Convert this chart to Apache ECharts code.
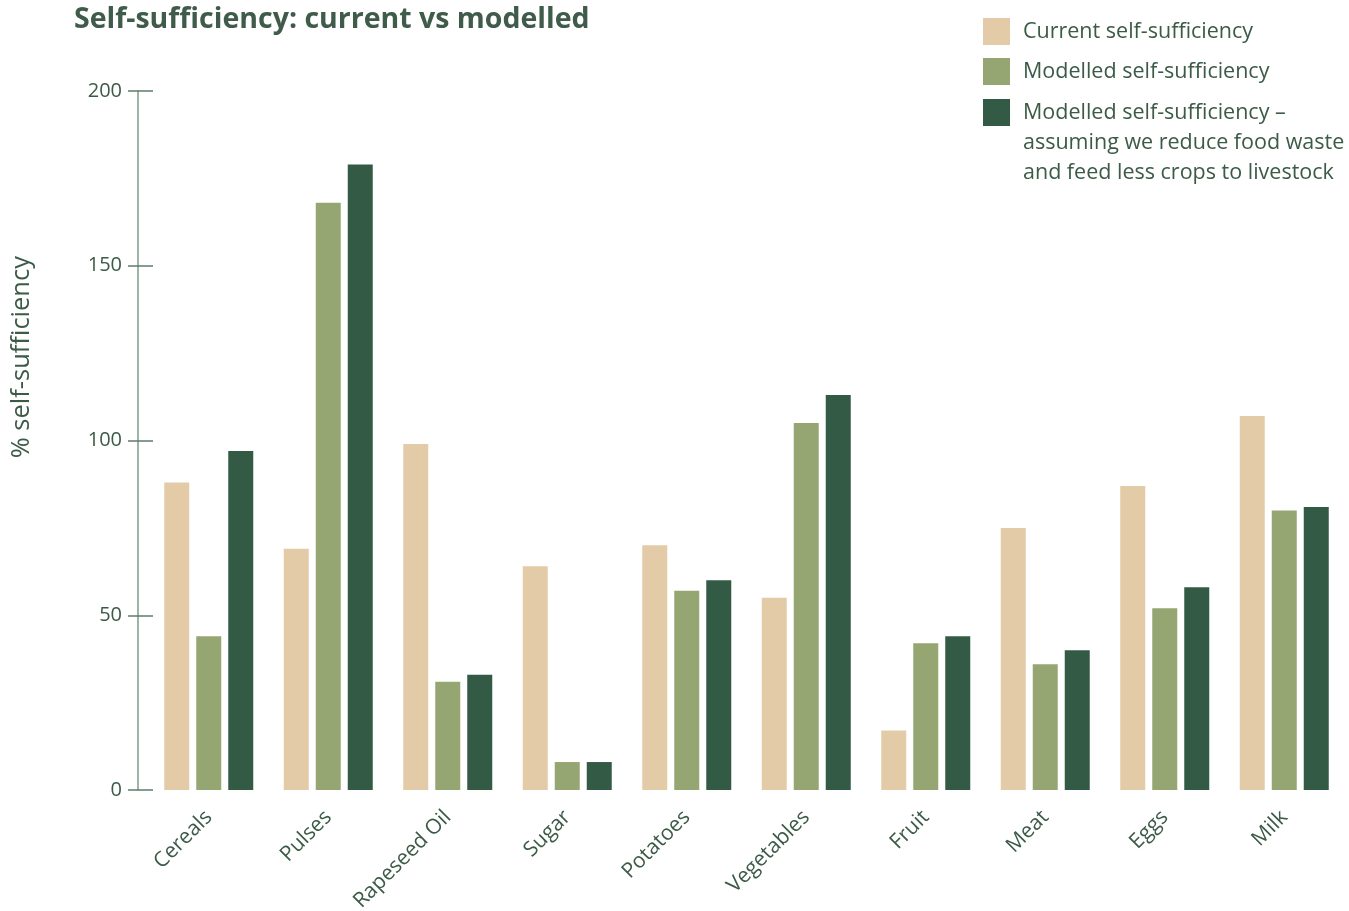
<!DOCTYPE html>
<html><head><meta charset="utf-8">
<script src="https://cdn.jsdelivr.net/npm/echarts@6/dist/echarts.min.js"></script>
<style>html,body{margin:0;padding:0;background:#fff}#c{width:1349px;height:911px}</style>
</head><body><div id="c"></div>
<script>
const categories = ['Cereals','Pulses','Rapeseed Oil','Sugar','Potatoes','Vegetables','Fruit','Meat','Eggs','Milk'];
const currentVals = [88, 69, 99, 64, 70, 55, 17, 75, 87, 107];
const modelledVals = [44, 168, 31, 8, 57, 105, 42, 36, 52, 80];
const reducedVals = [97, 179, 33, 8, 60, 113, 44, 40, 58, 81];
const seriesNames = ['Current self-sufficiency','Modelled self-sufficiency','Modelled self-sufficiency –\nassuming we reduce food waste\nand feed less crops to livestock'];
const yTicks = [0, 50, 100, 150, 200];
const colors = ['#E3CBA8','#96A672','#335A44'];
const textColor = '#3C5B47';
const font = '"Open Sans", Lato, sans-serif';

const legendText = {fontFamily: font, fontSize: 21.5, color: textColor, lineHeight: 30, padding: [0,0,0,8]};

const chart = echarts.init(document.getElementById('c'));
chart.setOption({
  animation: false,
  textStyle: {fontFamily: font},
  title: {text: 'Self-sufficiency: current vs modelled', left: 69, top: 0,
    textStyle: {fontFamily: font, fontWeight: 'bold', fontSize: 28.5, color: '#3F5B49'}},
  legend: [
    {
      left: 978, top: 11.5, orient: 'vertical', align: 'left',
      itemWidth: 27, itemHeight: 27, itemGap: 10, icon: 'rect',
      textStyle: legendText,
      data: [seriesNames[0], seriesNames[1]]
    },
    {
      left: 978, top: 32.5, orient: 'vertical', align: 'left',
      itemWidth: 27, itemHeight: 27, itemGap: 10, icon: 'rect',
      textStyle: legendText,
      formatter: function (name) { return '\n\n' + name; },
      data: [seriesNames[2]]
    }
  ],
  graphic: [{type: 'text', left: 9, top: 256, rotation: Math.PI/2,
    style: {text: '% self-sufficiency', fontFamily: font, fontSize: 25.5, fill: textColor}}],
  grid: {left: 149, right: 5, top: 91, bottom: 121, containLabel: false, outerBoundsMode: 'none'},
  xAxis: {
    type: 'category', data: categories,
    axisLine: {show: false}, axisTick: {show: false},
    axisLabel: {rotate: 45, fontSize: 21, color: textColor, margin: 24, fontFamily: font}
  },
  yAxis: [
    {
      type: 'value', min: yTicks[0], max: yTicks[yTicks.length-1], interval: yTicks[1]-yTicks[0], offset: 11,
      axisLine: {show: true, lineStyle: {color: '#7F9A88', width: 1.5}},
      axisTick: {show: true, length: 10, lineStyle: {color: '#5E7D69', width: 1.5}},
      splitLine: {show: false},
      axisLabel: {fontSize: 20, color: textColor, margin: 16, fontFamily: font}
    },
    {
      type: 'value', min: yTicks[0], max: yTicks[yTicks.length-1], interval: yTicks[1]-yTicks[0], offset: 11, position: 'left',
      axisLine: {show: false},
      axisTick: {show: true, inside: true, length: 15, lineStyle: {color: '#5E7D69', width: 1.5}},
      splitLine: {show: false},
      axisLabel: {show: false}
    }
  ],
  series: [
    {name: seriesNames[0], type: 'bar', data: currentVals, itemStyle: {color: colors[0]}, barWidth: 25, barGap: '28%'},
    {name: seriesNames[1], type: 'bar', data: modelledVals, itemStyle: {color: colors[1]}, barWidth: 25, barGap: '28%'},
    {name: seriesNames[2], type: 'bar', data: reducedVals, itemStyle: {color: colors[2]}, barWidth: 25, barGap: '28%'}
  ]
});
</script></body></html>
